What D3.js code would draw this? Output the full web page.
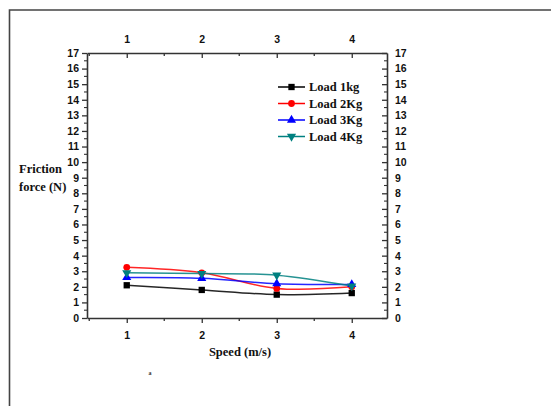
<!DOCTYPE html>
<html><head><meta charset="utf-8">
<script src="https://cdn.jsdelivr.net/npm/d3@7"></script>
<style>
html,body{margin:0;padding:0;background:#fff;}
svg{display:block;}
.tk{font-family:"Liberation Sans Narrow","Arial Narrow","Liberation Sans",sans-serif;font-weight:bold;font-size:10.5px;fill:#111;}
.ser{font-family:"Liberation Serif","Times New Roman",serif;font-weight:bold;font-size:12.5px;fill:#111;}
</style></head>
<body>
<script>
const speeds = [1, 2, 3, 4];
const load1 = [2.1, 1.8, 1.5, 1.6];
const load2 = [3.25, 2.9, 1.9, 2.0];
const load3 = [2.6, 2.55, 2.2, 2.15];
const load4 = [2.9, 2.85, 2.75, 2.05];
const seriesNames = ["Load 1kg", "Load 2Kg", "Load 3Kg", "Load 4Kg"];
const yTicks = d3.range(0, 18);

const colors = ["#000000", "#ff0000", "#0000ff", "#008080"];
const symbols = [d3.symbolSquare, d3.symbolCircle, d3.symbolTriangle, d3.symbolTriangle];
const rotations = [0, 0, 0, 180];
const series = [load1, load2, load3, load4];

const W = 551, H = 406;
const svg = d3.select("body").append("svg").attr("width", W).attr("height", H);

// outer frame
svg.append("path").attr("d", `M${W+2},10 H9.5 V${H+2}`).attr("fill","none").attr("stroke","#444").attr("stroke-width",1.6);

const L = 87, R = 387, T = 53, B = 318;
const x = d3.scaleLinear().domain([0.47, 4.47]).range([L, R]);
const y = d3.scaleLinear().domain([0, 17]).range([B, T]);

const minorX = [0.5, 1.5, 2.5, 3.5, 4.5].filter(v => v > 0.47 && v < 4.47);
const minorY = d3.range(0.5, 17, 1);

function styleAxis(g){
  g.selectAll(".domain").attr("stroke","#333").attr("stroke-width",1.6);
  g.selectAll(".tick line").attr("stroke","#333").attr("stroke-width",1.3);
  g.selectAll("text").attr("class","tk");
}

// bottom axis
const gb = svg.append("g").attr("transform",`translate(0,${B})`)
  .call(d3.axisBottom(x).tickValues(speeds).tickSize(5).tickPadding(9).tickSizeOuter(0).tickFormat(d3.format("d")));
styleAxis(gb);
gb.selectAll(".minor").data(minorX).enter().append("line")
  .attr("x1",d=>x(d)).attr("x2",d=>x(d)).attr("y1",0).attr("y2",3).attr("stroke","#333").attr("stroke-width",1.3);

// top axis (ticks inward)
const gt = svg.append("g").attr("transform",`translate(0,${T})`)
  .call(d3.axisTop(x).tickValues(speeds).tickSize(-5).tickPadding(10).tickSizeOuter(0).tickFormat(d3.format("d")));
styleAxis(gt);
gt.selectAll(".minor").data(minorX).enter().append("line")
  .attr("x1",d=>x(d)).attr("x2",d=>x(d)).attr("y1",0).attr("y2",3).attr("stroke","#333").attr("stroke-width",1.3);

// left axis
const gl = svg.append("g").attr("transform",`translate(${L},0)`)
  .call(d3.axisLeft(y).tickValues(yTicks).tickSize(5).tickPadding(3).tickSizeOuter(0).tickFormat(d3.format("d")));
styleAxis(gl);
gl.selectAll(".minor").data(minorY).enter().append("line")
  .attr("x1",-3).attr("x2",0).attr("y1",d=>y(d)).attr("y2",d=>y(d)).attr("stroke","#333").attr("stroke-width",1.1);

// right axis (ticks inward)
const gr = svg.append("g").attr("transform",`translate(${R},0)`)
  .call(d3.axisRight(y).tickValues(yTicks).tickSize(-5).tickPadding(8).tickSizeOuter(0).tickFormat(d3.format("d")));
styleAxis(gr);
gr.selectAll(".minor").data(minorY).enter().append("line")
  .attr("x1",-3).attr("x2",0).attr("y1",d=>y(d)).attr("y2",d=>y(d)).attr("stroke","#333").attr("stroke-width",1.1);

// lines
const line = d3.line().x((d,i)=>x(speeds[i])).y(d=>y(d)).curve(d3.curveCatmullRom.alpha(0.5));
series.forEach((s,k)=>{
  svg.append("path").datum(s).attr("d",line).attr("fill","none")
    .attr("stroke",colors[k]).attr("stroke-width",1.5).attr("opacity",0.85);
});
series.forEach((s,k)=>{
  const sym = d3.symbol().type(symbols[k]).size(k===0?40:36);
  svg.selectAll(null).data(s).enter().append("path")
    .attr("d",sym)
    .attr("transform",(d,i)=>`translate(${x(speeds[i])},${y(d)}) rotate(${rotations[k]})`)
    .attr("fill",colors[k]);
});

// legend
const legY = [87, 103.5, 120, 136.5];
seriesNames.forEach((name,k)=>{
  const g = svg.append("g").attr("transform",`translate(0,${legY[k]})`);
  g.append("line").attr("x1",278).attr("x2",305).attr("y1",0).attr("y2",0)
    .attr("stroke",colors[k]).attr("stroke-width",1.5);
  g.append("path").attr("d",d3.symbol().type(symbols[k]).size(k===0?40:36))
    .attr("transform",`translate(291.5,0) rotate(${rotations[k]})`).attr("fill",colors[k]);
  g.append("text").attr("class","ser").attr("x",309).attr("y",4).text(name);
});

// axis titles
svg.append("text").attr("class","ser").attr("x",19).attr("y",173).text("Friction");
svg.append("text").attr("class","ser").attr("x",19).attr("y",191).text("force (N)");
svg.append("text").attr("class","ser").attr("x",240).attr("y",356).attr("text-anchor","middle").text("Speed (m/s)");
svg.append("text").attr("x",150).attr("y",375).attr("text-anchor","middle")
  .style("font-family","Liberation Serif, serif").style("font-size","6px").style("font-weight","bold").attr("fill","#333").text("a");
</script>
</body></html>
